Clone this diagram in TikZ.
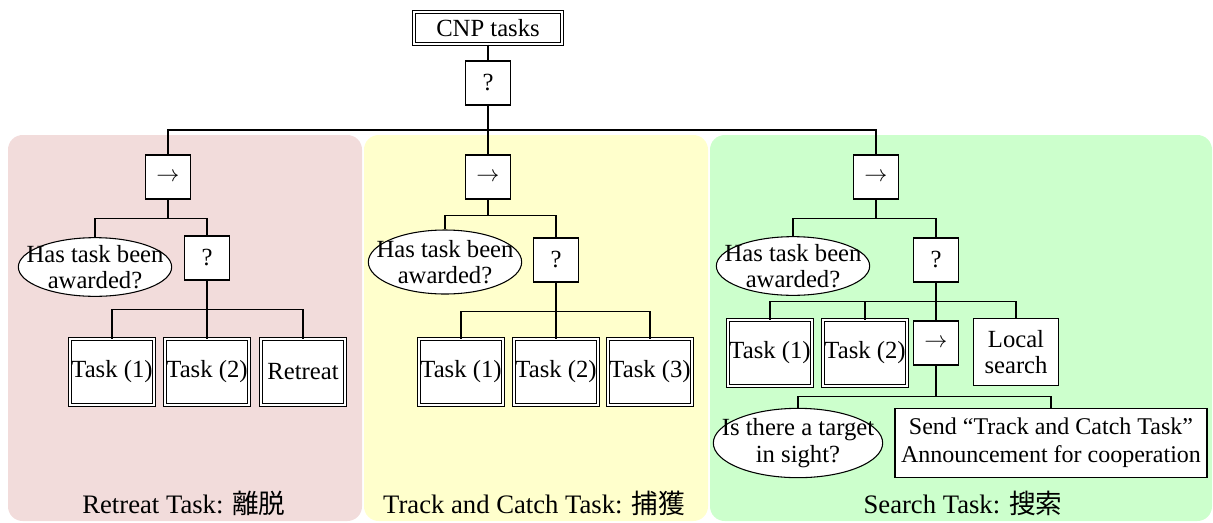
\documentclass[tikz,border=0pt]{standalone}
\usepackage{fontspec}
\setmainfont{Liberation Serif}
\newfontfamily\cjk{Noto Sans CJK JP}
\usepackage{tikz}
\usetikzlibrary{positioning,shapes.geometric,calc}
\definecolor{RetreatPink}{HTML}{F2DCDB}
\definecolor{CatchYellow}{HTML}{FFFFCC}
\definecolor{SearchGreen}{HTML}{CCFFCC}
\tikzset{
  btnode/.style={draw,fill=white,line width=0.8pt,inner sep=0pt,align=center,font=\fontsize{18.5}{20}\selectfont},
  ctrl/.style={btnode,minimum width=34pt,minimum height=33pt},
  task/.style={btnode,line width=0.85pt,double,double distance=1.3pt,minimum width=63pt,minimum height=49pt},
  cond/.style={btnode,ellipse,inner xsep=-25pt,inner ysep=-12pt,minimum width=115pt,minimum height=44pt},
  link/.style={line width=0.8pt},
  paneltitle/.style={font=\fontsize{20}{24}\selectfont}
}

\begin{document}
\begin{tikzpicture}[x=0.75pt,y=-0.75pt]
		\useasboundingbox (0,0) rectangle (1213,522);
		% task panels
		\fill[RetreatPink,rounded corners=11pt] (8,135) rectangle (362,521);
		\fill[CatchYellow,rounded corners=11pt] (364,135) rectangle (708,521);
		\fill[SearchGreen,rounded corners=11pt] (710,135) rectangle (1212,521);
		\node[paneltitle] (titleR) at (184,503) {Retreat Task: {\cjk 離脱}};
		\node[paneltitle] (titleC) at (534,503) {Track and Catch Task: {\cjk 捕獲}};
		\node[paneltitle] (titleS) at (963,503) {Search Task: {\cjk 搜索}};
		% root
		\node[task,minimum width=111pt,minimum height=24pt] (root) at (488,28) {CNP tasks};
		\node[ctrl] (sel) at (488,83) {?};
		\node[ctrl] (seqR) at (168,177) {$\rightarrow$};
		\node[ctrl] (seqC) at (488,177) {$\rightarrow$};
		\node[ctrl] (seqS) at (876,177) {$\rightarrow$};
		\draw[link] (root.south) -- (sel.north);
		\draw[link] (sel.south) -- (seqC.north);
		\coordinate (bar) at (488,130);
		\draw[link] (seqR.north) |- (bar) -| (seqS.north);
		% retreat
		\node[cond] (condR) at (95,267) {Has task been\\awarded?};
		\node[ctrl] (selR) at (207,258) {?};
		\draw[link] (seqR.south) -- ++(0,19) coordinate (jR);
		\draw[link] (condR.north) |- (jR) -| (selR.north);
		\node[task] (tR1) at (112,372) {Task (1)};
		\node[task] (tR2) at (207,372) {Task (2)};
		\node[task] (tR3) at (303,372) {Retreat};
		\draw[link] (selR.south) -- ++(0,29) coordinate (kR);
		\foreach \t in {tR1,tR2,tR3}
		\draw[link] (kR) -| (\t.north);
		% track and catch
		\node[cond,minimum height=48pt] (condC) at (445,262) {Has task been\\awarded?};
		\node[ctrl] (selC) at (556,260) {?};
		\draw[link] (seqC.south) -- ++(0,16) coordinate (jC);
		\draw[link] (condC.north) |- (jC) -| (selC.north);
		\node[task] (tC1) at (461,372) {Task (1)};
		\node[task] (tC2) at (556,372) {Task (2)};
		\node[task] (tC3) at (650,372) {Task (3)};
		\draw[link] (selC.south) -- ++(0,29) coordinate (kC);
		\foreach \t in {tC1,tC2,tC3}
		\draw[link] (kC) -| (\t.north);
		% search
		\node[cond] (condS) at (793,266) {Has task been\\awarded?};
		\node[ctrl] (selS) at (936,260) {?};
		\draw[link] (seqS.south) -- ++(0,19) coordinate (jS);
		\draw[link] (condS.north) |- (jS) -| (selS.north);
		\node[task] (tS1) at (770,353) {Task (1)};
		\node[task] (tS2) at (865,353) {Task (2)};
		\node[ctrl] (seqS2) at (936,343) {$\rightarrow$};
		\node[btnode,minimum width=64pt,minimum height=50pt] (local) at (1016,352) {Local\\search};
		\draw[link] (selS.south) -- ++(0,19) coordinate (kS);
		\foreach \t in {tS1,tS2,seqS2,local}
		\draw[link] (kS) -| (\t.north);
		\node[cond,minimum width=127pt,minimum height=52pt] (target) at (798,443) {Is there a target\\in sight?};
		\node[btnode,minimum width=234pt,minimum height=52pt,font=\fontsize{18}{21}\selectfont] (send) at (1051,443) {Send ``Track and Catch Task''\\Announcement for cooperation};
		\draw[link] (seqS2.south) -- ++(0,31) coordinate (mS);
		\draw[link] (target.north) |- (mS) -| (send.north);
	\end{tikzpicture}
\end{document}
